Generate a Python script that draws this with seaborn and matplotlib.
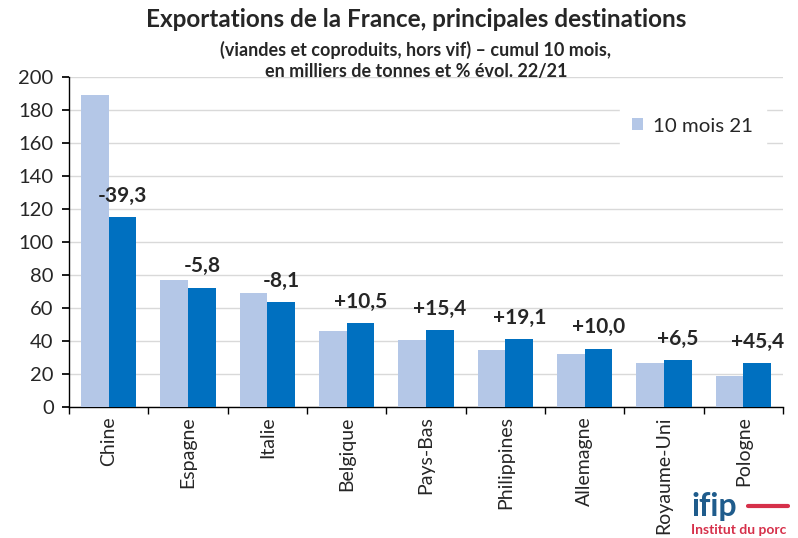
import numpy as np
import pandas as pd
import matplotlib
matplotlib.use("Agg")
import matplotlib.pyplot as plt
import seaborn as sns

# Valeurs (milliers de tonnes)
pays = ["Chine", "Espagne", "Italie", "Belgique", "Pays-Bas",
        "Philippines", "Allemagne", "Royaume-Uni", "Pologne"]
mois_21 = [189.3, 76.8, 69.1, 45.9, 40.6, 34.4, 32.1, 26.4, 18.4]
mois_22 = [115.0, 72.3, 63.5, 50.8, 46.7, 40.9, 35.3, 28.2, 26.7]
evol = ["-39,3", "-5,8", "-8,1", "+10,5", "+15,4", "+19,1", "+10,0", "+6,5", "+45,4"]
periodes = ["10 mois 21", "10 mois 22"]

df = pd.DataFrame({
    "pays": pays * 2,
    "periode": [periodes[0]] * len(pays) + [periodes[1]] * len(pays),
    "valeur": mois_21 + mois_22,
})

sns.set_theme(style="white")
plt.rcParams["font.family"] = ["Lato", "DejaVu Sans"]

fig = plt.figure(figsize=(7.98, 5.38), dpi=100)
ax = fig.add_axes([0.0865, 0.244, 0.8947, 0.613])

sns.barplot(data=df, x="pays", y="valeur", hue="periode", hue_order=periodes,
            palette=["#B4C7E7", "#0070C0"], saturation=1, width=0.7, gap=0,
            errorbar=None, linewidth=0, ax=ax, zorder=3)

ax.set_ylim(0, 200)
ax.set_xlim(-0.5, len(pays) - 0.5)
ax.set_yticks(np.arange(0, 201, 20))
ax.yaxis.grid(True, color="#D9D9D9", linewidth=1, zorder=0)
ax.set_axisbelow(True)
ax.set_xlabel("")
ax.set_ylabel("")
for s in ["top", "right"]:
    ax.spines[s].set_visible(False)
for s in ["left", "bottom"]:
    ax.spines[s].set_color("black")
    ax.spines[s].set_linewidth(1)

ax.tick_params(axis="y", which="major", left=True, length=5, color="black",
               labelsize=14.5, pad=6)
ax.set_xticks(range(len(pays)))
ax.set_xticklabels(pays, rotation=90, fontsize=14)
ax.tick_params(axis="x", which="major", length=0, pad=7)
ax.set_xticks(np.arange(-0.5, len(pays), 1), minor=True)
ax.tick_params(axis="x", which="minor", bottom=True, length=5, color="black")

# Étiquettes d'évolution au-dessus des barres 2022
dark_bars = ax.containers[1]
for bar, txt in zip(dark_bars, evol):
    ax.annotate(txt, (bar.get_x() + bar.get_width() / 2, bar.get_height()),
                xytext=(0, 8), textcoords="offset points", ha="center",
                va="bottom", fontsize=15, fontweight="bold")

handles, labels = ax.get_legend_handles_labels()
leg = ax.legend(handles[:1], labels[:1], loc="upper right",
                bbox_to_anchor=(0.99, 0.945), frameon=True, fontsize=14.7,
                handlelength=0.55, handleheight=0.55, handletextpad=0.5,
                borderpad=0.6, fancybox=False)
leg.get_frame().set_edgecolor("white")
leg.get_frame().set_facecolor("white")
leg.get_frame().set_alpha(1)

fig.text(0.521, 0.963, "Exportations de la France, principales destinations",
         ha="center", va="center", fontsize=17.5, fontweight="bold")
fig.text(0.521, 0.908, "(viandes et coproduits, hors vif) \u2013 cumul 10 mois,",
         ha="center", va="center", fontsize=13, fontweight="bold")
fig.text(0.521, 0.868, "en milliers de tonnes et % \u00e9vol. 22/21",
         ha="center", va="center", fontsize=13, fontweight="bold")

# Logo ifip
fig.text(0.866, 0.040, "ifip", ha="left", va="baseline", fontsize=23,
         fontweight="bold", color="#1F5C8C")
fig.add_artist(plt.Line2D([0.937, 0.987], [0.059, 0.059], color="#D6304A",
                          linewidth=3, transform=fig.transFigure))
fig.text(0.866, 0.008, "Institut du porc", ha="left", va="baseline",
         fontsize=10, fontweight="bold", color="#D6304A")

fig.savefig("out.png", dpi=100)
